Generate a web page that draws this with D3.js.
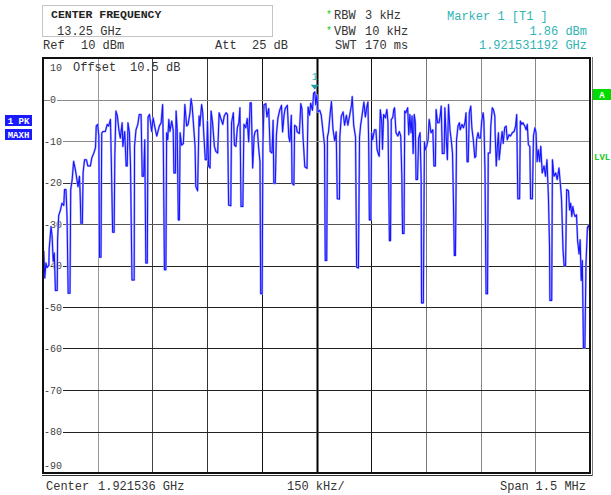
<!DOCTYPE html>
<html>
<head>
<meta charset="utf-8">
<script src="https://cdn.jsdelivr.net/npm/d3@7"></script>
<style>
body { margin: 0; background: #fff; }
svg { display: block; font-family: "Liberation Mono", "DejaVu Sans Mono", monospace; }
</style>
</head>
<body>
<svg width="611" height="495"></svg>
<script>
// analyzer settings
var centerGHz  = 1.921536;
var spanKHz    = 1500;
var divKHz     = 150;
var refDBm     = 10;
var bottomDBm  = -90;
var markerGHz  = 1.921531192;
var markerDBm  = 1.86;

var levelTicks = [10, 0, -10, -20, -30, -40, -50, -60, -70, -80, -90];
var freqTicks  = d3.range(-spanKHz / 2, spanKHz / 2 + 1, divKHz);

// max-hold trace: [offset from center in kHz, level in dBm]
var trace = [
  [-750,-38],[-748,-36.6],[-745,-43],[-742,-39.4],[-739,-40.5],[-734,-40],[-733,-36],[-728,-30.6],[-725,-33],
  [-722,-39],[-719,-37],[-716,-46],[-711,-46],[-710,-33.8],[-707,-28],[-702,-26.6],[-698,-25],[-693,-25.5],
  [-691,-21.7],[-687,-21.7],[-684,-28.5],[-681,-46.7],[-676,-46.7],[-674,-21.7],[-670,-19.3],[-666,-14.9],
  [-661,-17],[-657,-19.3],[-654,-21],[-650,-18.5],[-648,-23],[-646,-29.8],[-642,-29.8],[-640,-17.6],[-636,-14.5],
  [-631,-14.5],[-627,-16],[-620,-16],[-616,-14],[-611,-13],[-606,-11.6],[-604,-6.4],[-600,-6],[-597,-8.8],
  [-595,-38],[-591,-38],[-589,-8.1],[-585,-7.7],[-579,-7.7],[-574,-6],[-570,-6.4],[-565,-4.8],[-563,-13.4],
  [-559,-32],[-555,-32],[-553,-13.4],[-550,-2.8],[-546,-4],[-542,-7.3],[-538,-9.3],[-533,-5.6],[-531,-11.3],
  [-526,-7.7],[-522,-16],[-519,-16],[-517,-5.6],[-513,-8],[-510,-16],[-506,-43.5],[-500,-43.5],[-499,-11.3],
  [-495,-7.3],[-490,-6],[-486,-3.6],[-481,-3.6],[-478,-18.5],[-474,-18.5],[-471,-9.7],[-468,-39.4],[-464,-39.4],
  [-462,-4.3],[-458,-3.6],[-452,-7.7],[-448,-4.4],[-443,-6.8],[-438,-8.8],[-431,-6.4],[-426,-5.6],[-422,-1.2],
  [-420,-11.3],[-417,-41],[-413,-41],[-411,-8],[-408,-9.7],[-405,-4.8],[-402,-7.7],[-397,-5.2],[-393,-7.3],
  [-391,-17.7],[-387,-17.7],[-385,-2.8],[-382,-7.3],[-379,-29],[-376,-29],[-374,-8],[-370,-11],[-365,-10.6],
  [-361,-1.2],[-356,-6.4],[-352,-6],[-347,-3.2],[-344,0.2],[-341,-1.6],[-338,-5.2],[-333,-11.3],[-331,-21],
  [-326,-22],[-322,-4],[-320,-6.4],[-315,-1.2],[-312,-3.2],[-309,-8.5],[-305,-14.5],[-301,-14.5],[-299,-5.2],
  [-296,-16],[-292,-16.5],[-289,-2.8],[-285,-5.6],[-280,-11.3],[-276,-12.5],[-271,-12.9],[-267,-3.2],[-263,-4.4],
  [-257,-6],[-253,-4],[-248,-3.2],[-244,-3.6],[-241,-25.4],[-235,-25.6],[-233,-5.6],[-228,-3.2],[-225,-11],
  [-221,-11.3],[-217,-6.8],[-213,-5.6],[-210,-2],[-207,-25.8],[-202,-25.8],[-199,-6],[-194,-6.8],[-190,-4.6],
  [-186,-10.2],[-182,-0.8],[-179,-0.8],[-175,-16.5],[-171,-8.8],[-168,-7.7],[-162,-7.3],[-159,-11.3],[-155,-15],
  [-153,-46.8],[-149,-46.8],[-147,-10.9],[-144,-1.3],[-139,-1],[-136,-4.2],[-131,-2.2],[-127,-12.5],[-122,-12.9],
  [-119,-5],[-117,-20.2],[-113,-20.2],[-110,-8.6],[-106,-4.6],[-101,-2.6],[-96,-1.4],[-93,-7.8],[-89,-3.8],
  [-86,-2.2],[-80,-1.4],[-76,-9],[-73,-10.2],[-69,-3.8],[-67,-20.2],[-62,-20.6],[-60,-6.2],[-55,-6.6],[-53,-7.8],
  [-47,-8.2],[-43,-1],[-40,-2.2],[-37,-9],[-32,-16.2],[-26,-16.6],[-23,-1.8],[-19,-3.8],[-16,-0.9],[-11,-2.6],
  [-8,1.5],[-4.8,1.86],[-2,-1.3],[1,1.1],[4,-3],[9,-2.6],[13,-3.8],[18,-7.8],[22,-11],[24,-38.8],[28,-38.8],
  [30,-9],[33,-7.8],[37,-3.8],[41,-0.5],[45,-7],[50,-10],[54,-7.8],[57,-23.9],[63,-24],[64,-9],[68,-4],[73,-3],
  [77,-6.2],[82,-3.8],[86,-6.2],[91,-3.8],[96,-1.3],[98,0.7],[102,-6.2],[107,-9],[110,-40.4],[115,-40.6],
  [118,-9],[121,-6.2],[125,-3.8],[130,-0.6],[134,-4.2],[138,-1.8],[141,-0.6],[143,-10],[145,-29],[149,-29],
  [151,-8],[154,-9.7],[159,-7.3],[163,-7.3],[166,-12],[170,-13.3],[172,-13.7],[175,-2.5],[179,-5.6],[181,-12],
  [184,-3.6],[189,-4.4],[193,-2.4],[196,-5.6],[200,-34],[203,-34],[205,-4.8],[209,-4.4],[212,-2.4],[214,-2],
  [218,-8],[223,-8.8],[227,-7.7],[231,-8.8],[234,-18.5],[236,-32.3],[240,-32.3],[242,-2.8],[245,-3.2],[250,-2],
  [253,-8.5],[256,-3.6],[259,-8],[262,-4],[265,-13],[268,-3.6],[271,-5.6],[273,-19.3],[277,-19.3],[280,-9.3],
  [284,-8],[287,-19.3],[288,-49],[293,-49],[296,-10.2],[298,-12.1],[302,-11.3],[306,-9.7],[309,-4.8],[314,-8],
  [319,-7.3],[322,-16],[326,-16],[328,-2.4],[332,-5.6],[336,-5.6],[339,-4],[342,-1.6],[345,-13],[350,-13],
  [352,-2],[355,-8],[359,-14.5],[362,-1.2],[366,-7.3],[370,-10.2],[373,-13],[375,-21.9],[378,-37.6],[381,-37.6],
  [384,-9.7],[388,-6.4],[392,-5.6],[394,-7.3],[399,-6],[403,-6.8],[407,-5.6],[410,-3.2],[413,-15],[416,-15],
  [419,-3.2],[423,-1.6],[426,-6.8],[430,-9.7],[434,-14],[437,-13.7],[439,-9.7],[443,-8],[446,-9.3],[450,-9.3],
  [453,-5.2],[457,-3.2],[459,-5.2],[462,-17],[465,-46.8],[469,-46.8],[471,-12.9],[476,-12.9],[478,-6.4],[482,-2],
  [485,-2.4],[489,-4],[490,-8.5],[493,-16],[496,-11.3],[499,-8],[501,-14.5],[505,-10.9],[509,-7.7],[512,-10.6],
  [516,-6.8],[520,-6.4],[523,-9.7],[528,-8.5],[532,-8.8],[537,-8],[542,-7.7],[546,-6.4],[549,-3.6],[552,-23.9],
  [557,-23.9],[559,-5.2],[563,-6],[566,-5.6],[571,-6.4],[575,-7.3],[578,-6],[581,-10.9],[585,-11.3],[587,-23.9],
  [592,-23.9],[595,-8.8],[599,-6.8],[602,-8],[605,-15],[608,-12.1],[612,-15],[615,-11.3],[619,-17.7],[624,-16],
  [628,-18.5],[632,-14.5],[636,-23.5],[639,-35.4],[640,-48.4],[645,-48.4],[647,-14.5],[651,-18.5],[656,-17.7],
  [660,-19.3],[665,-16.5],[670,-21.7],[672,-24.2],[676,-36.2],[679,-40],[683,-40],[686,-21.7],[691,-22],
  [694,-26.6],[697,-25],[700,-28.2],[703,-25.8],[706,-27.4],[709,-28.2],[713,-27.8],[716,-34],[720,-37.2],
  [723,-33.8],[726,-43.6],[729,-38.8],[732,-59.8],[736,-59.8],[739,-39.6],[743,-30.8],[746,-30.4],[750,-31.6]
];

// grid line shades, as the screen shows them
var vGridShade = ['#111', '#999', '#444', '#333', '#111', '#000', '#111', '#777', '#888', '#888', '#111'];
var hGridShade = {'0': '#8a8a8a', '-10': '#8a8a8a', '-20': '#333', '-30': '#555'};

var svg = d3.select("svg");

var x = d3.scaleLinear().domain([-spanKHz / 2, spanKHz / 2]).range([43, 590]);
var y = d3.scaleLinear().domain([bottomDBm, refDBm]).range([473, 58]);

svg.append("rect").attr("width", 611).attr("height", 495).attr("fill", "#fff");

// header
svg.append("rect")
   .attr("x", 42.5).attr("y", 5.5).attr("width", 230).attr("height", 31)
   .attr("fill", "none").attr("stroke", "#c4c4c4");

var txt = function (s, px, py, opts) {
  opts = opts || {};
  return svg.append("text")
     .attr("x", px).attr("y", py)
     .attr("font-size", opts.size || 12)
     .attr("font-weight", opts.bold ? "bold" : null)
     .attr("text-anchor", opts.anchor || "start")
     .attr("fill", opts.color || "#333")
     .text(s);
};

txt("CENTER FREQUENCY", 51, 18, {bold: true, size: 11.5, color: "#222"});
txt("13.25 GHz", 57, 35);
txt("Ref", 43, 49);
txt("10 dBm", 81, 49);
txt("Att", 215, 49);
txt("25 dB", 252, 49);

txt("*", 326, 18, {color: "#1ec81e", size: 10});
txt("RBW", 334, 19);
txt("3 kHz", 365, 19);
txt("*", 326, 34, {color: "#1ec81e", size: 10});
txt("VBW", 334, 35);
txt("10 kHz", 365, 35);
txt("SWT", 335, 49);
txt("170 ms", 365, 49);

var teal = "#2fb4b4";
txt("Marker 1 [T1 ]", 447, 20, {color: teal});
txt(markerDBm.toFixed(2) + " dBm", 587, 35, {color: teal, anchor: "end"});
txt(markerGHz.toFixed(9) + " GHz", 587, 49, {color: teal, anchor: "end"});

// grid
var grid = svg.append("g");
grid.selectAll("line.v")
    .data(freqTicks)
    .enter().append("line")
    .attr("class", "v")
    .attr("x1", function (d) { return Math.round(x(d)) + 0.5; })
    .attr("x2", function (d) { return Math.round(x(d)) + 0.5; })
    .attr("y1", y(refDBm)).attr("y2", y(bottomDBm))
    .attr("stroke", function (d, i) { return vGridShade[i]; })
    .attr("stroke-width", function (d) { return d === 0 ? 2 : 1; });

grid.selectAll("line.h")
    .data(levelTicks.filter(function (d) { return d < refDBm && d > bottomDBm; }))
    .enter().append("line")
    .attr("class", "h")
    .attr("x1", x(-spanKHz / 2)).attr("x2", x(spanKHz / 2))
    .attr("y1", function (d) { return Math.round(y(d)) + 0.5; })
    .attr("y2", function (d) { return Math.round(y(d)) + 0.5; })
    .attr("stroke", function (d) { return hGridShade[String(d)] || "#222"; });

// level labels on the grid
var labels = svg.append("g").attr("font-size", 10).attr("fill", "#444");
levelTicks.forEach(function (d) {
  var ly = d === refDBm ? 67 : d === bottomDBm ? 465 : y(d);
  var s = String(d);
  var lx = d < 0 ? 44 : 50;
  var w = s.length * 6;
  labels.append("rect")
        .attr("x", lx).attr("y", ly - 5).attr("width", w + 1).attr("height", 10)
        .attr("fill", "#fff");
  labels.append("text")
        .attr("x", lx).attr("y", ly + 3.5)
        .text(s);
});

txt("Offset", 73, 71);
txt("10.5 dB", 130, 71);

// trace
svg.append("clipPath").attr("id", "plot")
   .append("rect").attr("x", 43).attr("y", 58).attr("width", 547).attr("height", 415);

var line = d3.line()
             .x(function (d) { return x(d[0]); })
             .y(function (d) { return y(d[1]); });

var tg = svg.append("g").attr("clip-path", "url(#plot)");
tg.append("path").datum(trace)
  .attr("d", line).attr("fill", "none")
  .attr("stroke", "#a8a8ff").attr("stroke-width", 2.1).attr("stroke-linejoin", "round");
tg.append("path").datum(trace)
  .attr("d", line).attr("fill", "none")
  .attr("stroke", "#1414ff").attr("stroke-width", 1.05).attr("stroke-linejoin", "round");

// marker 1
var mk = (markerGHz - centerGHz) * 1e6;
var mx = x(mk), my = y(markerDBm);
svg.append("path")
   .attr("d", "M" + (mx - 4) + "," + (my - 7) + "L" + (mx + 4) + "," + (my - 7) + "L" + mx + "," + (my - 2) + "Z")
   .attr("fill", "#1f9e9e");
txt("1", mx, my - 12, {color: teal, size: 10, anchor: "middle"});

// frame
svg.append("rect")
   .attr("x", 43).attr("y", 58).attr("width", 547).attr("height", 415)
   .attr("fill", "none").attr("stroke", "#111").attr("stroke-width", 2);
svg.append("line").attr("x1", 42).attr("x2", 593).attr("y1", 475.5).attr("y2", 475.5).attr("stroke", "#333");
svg.append("line").attr("x1", 592.5).attr("x2", 592.5).attr("y1", 57).attr("y2", 476).attr("stroke", "#777");

// trace and limit tags
var tag = function (s, px, py, w, h, fill) {
  svg.append("rect").attr("x", px).attr("y", py).attr("width", w).attr("height", h).attr("fill", fill);
  txt(s, px + w / 2, py + h - 2.5, {color: "#fff", size: 9, bold: true, anchor: "middle"});
};
tag("1 PK", 5, 115, 27, 11, "#1a1aff");
tag("MAXH", 5, 129, 27, 11, "#1a1aff");
tag("A", 593, 89, 18, 11, "#00dc00");
txt("LVL", 594, 160, {color: "#22c822", size: 9, bold: true});

// footer
txt("Center", 46, 490);
txt(centerGHz.toFixed(6) + " GHz", 98, 490);
txt(divKHz + " kHz/", 287, 490);
txt("Span", 500, 490);
txt((spanKHz / 1000) + " MHz", 586, 490, {anchor: "end"});
</script>
</body>
</html>
